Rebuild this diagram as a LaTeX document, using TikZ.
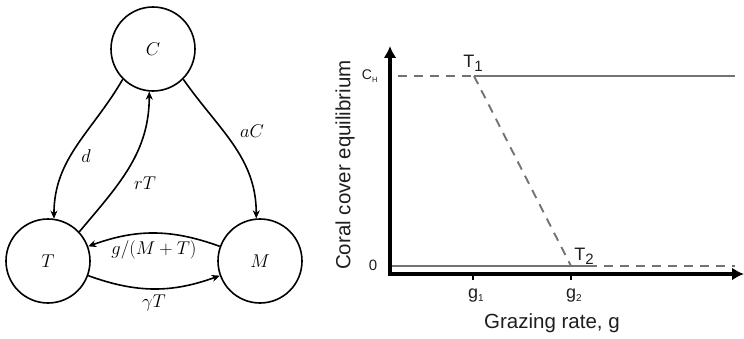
\RequirePackage{fix-cm}
\documentclass[tikz,border=0pt]{standalone}
\usepackage{fontspec}
\newfontfamily\arialf{Liberation Sans}
\usetikzlibrary{arrows.meta}
\definecolor{lgray}{RGB}{115,115,115}
\definecolor{txt}{RGB}{30,30,30}
\tikzset{
  state/.style={circle,draw,line width=1.6pt,minimum size=84pt,inner sep=0pt,font=\fontsize{18.5}{20}\selectfont},
  flow/.style={line width=1.6pt,-{Stealth[length=8pt,width=7pt,inset=2.5pt]}},
  lab/.style={font=\fontsize{18.5}{20}\selectfont},
  axis/.style={line width=3.2pt,line join=miter},
  eqline/.style={lgray,line width=1.9pt},
  eqdash/.style={lgray,line width=1.9pt,dash pattern=on 9pt off 7pt},
  atxt/.style={font=\arialf\fontsize{20.5}{22}\selectfont,text=txt},
  tlab/.style={font=\arialf\fontsize{18}{20}\selectfont,text=txt,inner sep=0pt},
  glab/.style={font=\arialf\fontsize{18}{20}\selectfont,text=txt,inner sep=0pt,anchor=base},
}
\newcommand{\subsml}[1]{\raisebox{-3pt}{\fontsize{10}{10}\selectfont #1}}
\newcommand{\subch}[1]{\raisebox{-2.5pt}{\fontsize{7.5}{8}\selectfont #1}}
\newcommand{\subbig}[1]{\raisebox{-4pt}{\fontsize{15}{15}\selectfont #1}}
\begin{document}
\begin{tikzpicture}[x=1pt,y=1pt]
\useasboundingbox (0,0) rectangle (744,338);
% ---------- left panel ----------
\node[state] (C) at (153,289) {$C$};
\node[state] (T) at (48,77) {$T$};
\node[state] (M) at (260,77) {$M$};
\draw[flow] (C.225) to[out=240,in=90] (T.82);
\draw[flow] (T.43) to[out=50,in=270] (C.265);
\draw[flow] (C.315) to[out=-55,in=90] (M.95);
\draw[flow] (M.160) to[out=160,in=20] (T.20);
\draw[flow] (T.340) to[out=-20,in=200] (M.200);
\node[lab] (ld) at (86,182) {$d$};
\node[lab] (lr) at (145,155) {$rT$};
\node[lab] (la) at (252,207) {$aC$};
\node[lab] (lg) at (154,88) {$g/(M+T)$};
\node[lab] (lc) at (154,35) {$\gamma T$};
% ---------- right panel ----------
\coordinate (ytop) at (390,292);
\coordinate (orig) at (390,64);
\coordinate (xend) at (744,64);
\draw[axis,{Latex[length=12pt,width=13pt]}-{Latex[length=12pt,width=13pt]}] (ytop) -- (orig) -- (xend);
\coordinate (ch0) at (398,262);
\coordinate (t1) at (474,262);
\coordinate (ch1) at (735,262);
\coordinate (z0) at (392,72);
\coordinate (t2) at (571,72);
\coordinate (zm) at (588,72);
\coordinate (z1) at (735,72);
\draw[eqdash] (ch0) -- (t1);
\draw[eqline] (t1) -- (ch1);
\draw[eqline] (z0) -- (zm);
\draw[eqdash] (zm) -- (z1);
\draw[eqdash] (t1) -- (t2);
\coordinate (g1a) at (473,64);
\coordinate (g1b) at (473,58);
\coordinate (g2a) at (571,64);
\coordinate (g2b) at (571,58);
\draw[line width=1.5pt] (g1a) -- (g1b);
\draw[line width=1.5pt] (g2a) -- (g2b);
\node[tlab] (T1) at (473,275) {T\subbig{1}};
\node[tlab] (T2) at (584,82) {T\subbig{2}};
\node[glab] (g1) at (473,40) {g\rlap{\subsml{1}}};
\node[glab] (g2) at (571,40) {g\rlap{\subsml{2}}};
\node[atxt] (xl) at (552,15) {Grazing rate, g};
\node[atxt,rotate=90] (yl) at (345,173) {Coral cover equilibrium};
\node[tlab,font=\arialf\fontsize{14}{16}\selectfont] (CH) at (367,262) {C\rlap{\subch{H}}};
\node[tlab,font=\arialf\fontsize{15}{16}\selectfont] (zero) at (373,73) {0};
\end{tikzpicture}
\end{document}
